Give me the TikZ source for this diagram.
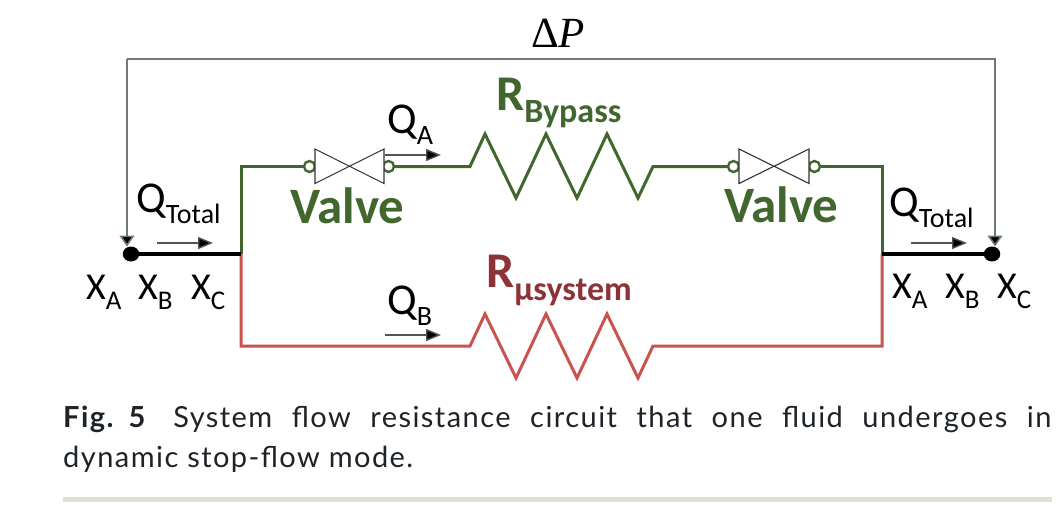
\documentclass[tikz,border=0pt]{standalone}
\usepackage{fontspec}
\setmainfont{Carlito}
\newfontfamily\capfont[LetterSpace=5]{Lato}
\newfontfamily\deltafont{Liberation Serif}
\usetikzlibrary{arrows.meta,shapes.geometric}
\definecolor{wiregreen}{HTML}{41672F}
\definecolor{wirered}{HTML}{C9544F}
\definecolor{labelred}{HTML}{8E3239}
\definecolor{wiregrey}{HTML}{6F7A78}
\definecolor{inkdark}{HTML}{1E2328}
\definecolor{rulebeige}{HTML}{E2DFD0}
\newcommand{\fsz}[1]{\fontsize{#1}{#1}\selectfont}
% main letter, subscript, main size, sub size, drop
\newcommand{\mlabel}[5]{{\fsz{#3}#1}\raisebox{-#5pt}{\fsz{#4}#2}}
\tikzset{
  lab/.style={inner sep=0pt,anchor=base west,text=black},
  greenwire/.style={draw=wiregreen,line width=3pt,line join=miter},
  redwire/.style={draw=wirered,line width=3pt,line join=miter},
  blackwire/.style={draw=black,line width=3.5pt},
  pwire/.style={draw=wiregrey,line width=1.6pt},
  flow/.style={draw=wiregrey!70!black,line width=1.4pt,-{Triangle[length=15pt,width=12pt,fill=black]}},
  bubble/.style={circle,draw=wiregreen,line width=2.4pt,fill=white,minimum size=11pt,inner sep=0pt},
  junction/.style={ellipse,fill=black,minimum width=16.5pt,minimum height=15pt,inner sep=0pt},
  valvebody/.style={draw=black!80,line width=1.1pt,line join=miter},
}
\begin{document}
\begin{tikzpicture}[x=1pt,y=-1pt]
\useasboundingbox (0,0) rectangle (1062,527);
\fill[white] (0,0) rectangle (1062,527);
% junction points
\node[junction] (jl) at (131,254) {};
\node[junction] (jr) at (992,254) {};
\coordinate (tl) at (241,254);
\coordinate (tr) at (882,254);
\coordinate (gl) at (241,166.5);
\coordinate (gr) at (882,166.5);
\coordinate (bl) at (241,346);
\coordinate (br) at (882,346);
% pressure loop
\coordinate (pl) at (127,59);
\coordinate (pr) at (995,59);
\coordinate (pla) at (127,246.5);
\coordinate (pra) at (995,246.5);
\draw[pwire,-{Triangle[length=11pt,width=15pt,fill=black]}] (pl) -- (pr) -- (pra);
\draw[pwire,-{Triangle[length=11pt,width=15pt,fill=black]}] (pl) -- (pla);
% valves
\node[bubble] (v1a) at (309.5,166.5) {};
\node[bubble] (v1b) at (388.5,166.5) {};
\node[bubble] (v2a) at (733.5,166.5) {};
\node[bubble] (v2b) at (814.5,166.5) {};
% green branch
\draw[greenwire] (tl) -- (gl) -- (v1a);
\draw[greenwire] (v1b) -- (470,166.5) -- (485,134) -- (516,198) -- (546,134) -- (577,198) -- (607,134) -- (638,198) -- (653,166.5) -- (v2a);
\draw[greenwire] (v2b) -- (gr) -- (tr);
% red branch
\draw[redwire] (tl) -- (bl) -- (470,346) -- (485,314) -- (516,378) -- (546,314) -- (577,378) -- (607,314) -- (638,378) -- (653,346) -- (br) -- (tr);
% main wires
\draw[blackwire] (jl) -- (tl);
\draw[blackwire] (jr) -- (tr);
% valve bodies
\draw[valvebody,fill=white] (315,149) -- (384,183.5) -- (384,149) -- (315,183.5) -- cycle;
\draw[valvebody,fill=white] (739,149) -- (809,183.5) -- (809,149) -- (739,183.5) -- cycle;
% flow arrows
\coordinate (fa1) at (385,155); \coordinate (fa2) at (441,155);
\coordinate (fb1) at (385,335); \coordinate (fb2) at (441,335);
\coordinate (fl1) at (157,243); \coordinate (fl2) at (213,243);
\coordinate (fr1) at (911,243); \coordinate (fr2) at (967,243);
\draw[flow] (fa1) -- (fa2);
\draw[flow] (fb1) -- (fb2);
\draw[flow] (fl1) -- (fl2);
\draw[flow] (fr1) -- (fr2);
% labels
\node[lab] (dp) at (531,48) {{\deltafont\fsz{43}Δ\itshape P}};
\node[lab] (qa) at (387,133) {\mlabel{Q}{A}{44}{28}{11}};
\node[lab] (qb) at (387,314) {\mlabel{Q}{B}{44}{28}{11}};
\node[lab] (ql) at (136,212) {\mlabel{Q}{Total}{44}{28}{11}};
\node[lab] (qr) at (889,216) {\mlabel{Q}{Total}{44}{28}{11}};
\node[lab] (xa1) at (86,299) {\mlabel{X}{A}{38}{27}{10}};
\node[lab] (xb1) at (138,299) {\mlabel{X}{B}{38}{27}{10}};
\node[lab] (xc1) at (191,299) {\mlabel{X}{C}{38}{27}{10}};
\node[lab] (xa2) at (892,298) {\mlabel{X}{A}{38}{27}{10}};
\node[lab] (xb2) at (945,298) {\mlabel{X}{B}{38}{27}{10}};
\node[lab] (xc2) at (997,298) {\mlabel{X}{C}{38}{27}{10}};
\node[lab,text=wiregreen] (vl) at (290,223) {\bfseries\fsz{51}Valve};
\node[lab,text=wiregreen] (vr) at (724,222) {\bfseries\fsz{51}Valve};
\node[lab,text=wiregreen] (rb) at (496,110) {\bfseries\mlabel{R}{Bypass}{50}{34}{12}};
\node[lab,text=labelred] (rm) at (486,287) {\bfseries\mlabel{R}{µsystem}{50}{34}{13}};
% caption
\node[lab,text=inkdark] (c1) at (63,427) {\capfont\fsz{29}\makebox[988pt][s]{\bfseries Fig.\hspace{15pt}5\hspace{28pt}\mdseries System flow resistance circuit that one fluid undergoes in}};
\node[lab,text=inkdark] (c2) at (63,467) {\capfont\fsz{29}dynamic stop-flow mode.};
\fill[rulebeige] (63,497) rectangle (1052,502);
\end{tikzpicture}
\end{document}
